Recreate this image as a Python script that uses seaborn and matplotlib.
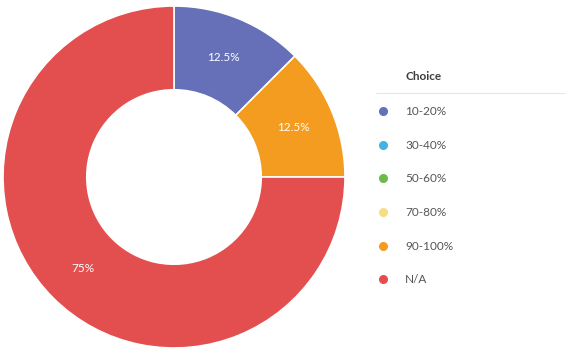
import seaborn as sns
import matplotlib.pyplot as plt
from matplotlib.lines import Line2D

choices = ["10-20%", "30-40%", "50-60%", "70-80%", "90-100%", "N/A"]
counts = [1, 0, 0, 0, 1, 6]
colors = ["#6670b8", "#3fb5e0", "#6db94c", "#f8dc84", "#f39c1f", "#e34f4f"]

sns.set_theme(style="white")
plt.rcParams["font.family"] = ["Lato", "DejaVu Sans"]

W, H = 565, 356
fig = plt.figure(figsize=(W / 100, H / 100), dpi=100)

# donut: centre (174, 177) px, outer radius 171 px
cx, cy, r = 174, 177, 171
ax = fig.add_axes([(cx - r) / W, (H - cy - r) / H, 2 * r / W, 2 * r / H])

shown = [(c, n, col) for c, n, col in zip(choices, counts, colors) if n > 0]
ax.pie([n for _, n, _ in shown], colors=[col for _, _, col in shown],
       startangle=90, counterclock=False, radius=1,
       autopct=lambda p: f"{p:g}%", pctdistance=0.755,
       wedgeprops=dict(width=0.49, edgecolor="white", linewidth=1.2),
       textprops=dict(color="white", fontsize=8.5))
ax.set_xlim(-1, 1)
ax.set_ylim(-1, 1)
ax.set_aspect("equal")
ax.axis("off")

# legend
fig.text(405 / W, 1 - 77 / H, "Choice", fontsize=8.5, fontweight="bold",
         color="#3d3d3d", ha="left", va="center")
fig.add_artist(Line2D([376 / W, 1], [1 - 93 / H] * 2, color="#e6e6e6", lw=0.8))

handles = [Line2D([], [], marker="o", ls="none", markersize=5.5,
                  markerfacecolor=col, markeredgecolor=col) for col in colors]
fig.legend(handles, choices, loc="upper left",
           bbox_to_anchor=(377 / W, 1 - 106 / H), frameon=False,
           fontsize=8.5, handlelength=1.0, handletextpad=1.37,
           labelspacing=1.92, borderpad=0, borderaxespad=0,
           labelcolor="#555555")

fig.savefig("out.png", dpi=100)
